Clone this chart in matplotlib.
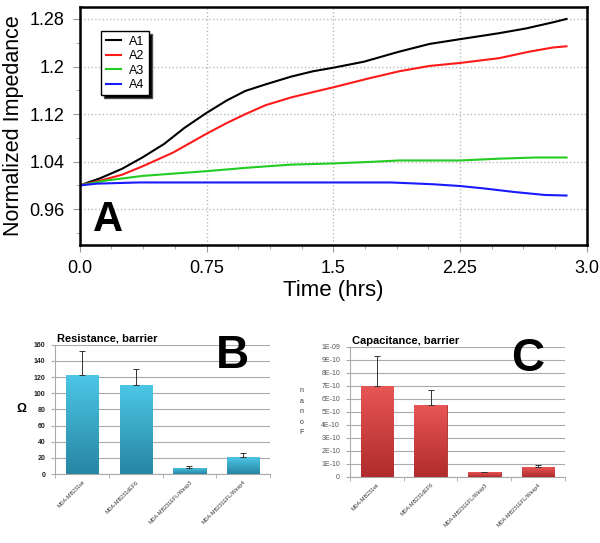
import numpy as np
import matplotlib
matplotlib.use("Agg")
import matplotlib.pyplot as plt
from matplotlib.ticker import MultipleLocator, FixedLocator
from matplotlib.colors import LinearSegmentedColormap

plt.rcParams['font.family'] = ['Liberation Sans', 'DejaVu Sans']

# Panel A: normalized impedance vs time
t_a1 = [0.0, 0.12, 0.25, 0.37, 0.5, 0.62, 0.75, 0.87, 0.98, 1.1, 1.25, 1.38, 1.5, 1.68, 1.89, 2.07, 2.25, 2.48, 2.64, 2.81, 2.88]
a1 = [1.0, 1.012, 1.028, 1.047, 1.07, 1.097, 1.122, 1.143, 1.159, 1.17, 1.183, 1.192, 1.198, 1.208, 1.225, 1.238, 1.246, 1.256, 1.264, 1.275, 1.28]
t_a2 = [0.0, 0.12, 0.25, 0.37, 0.55, 0.75, 0.87, 0.98, 1.1, 1.25, 1.38, 1.5, 1.71, 1.89, 2.07, 2.25, 2.48, 2.66, 2.8, 2.88]
a2 = [1.0, 1.008, 1.018, 1.032, 1.055, 1.087, 1.105, 1.12, 1.135, 1.148, 1.157, 1.165, 1.18, 1.192, 1.201, 1.206, 1.214, 1.225, 1.232, 1.234]
t_a3 = [0.0, 0.15, 0.37, 0.75, 1.0, 1.25, 1.5, 1.75, 1.89, 2.1, 2.25, 2.48, 2.7, 2.88]
a3 = [1.0, 1.008, 1.016, 1.024, 1.03, 1.035, 1.037, 1.04, 1.042, 1.042, 1.042, 1.045, 1.047, 1.047]
t_a4 = [0.0, 0.1, 0.35, 1.0, 1.5, 1.84, 2.09, 2.25, 2.39, 2.57, 2.75, 2.88]
a4 = [1.0, 1.003, 1.005, 1.005, 1.005, 1.005, 1.002, 0.999, 0.995, 0.989, 0.984, 0.983]

# Panels B and C
cells = ['MDA-MB231wt', 'MDA-MB231dEF6', 'MDA-MB231EFL/Wasp3', 'MDA-MB231EFL/Wasp4']
resistance = [122, 110, 8, 21]
resistance_err = [30, 20, 2, 5]
capacitance = [7.0e-10, 5.5e-10, 3.5e-11, 7.5e-11]
capacitance_err = [2.3e-10, 1.2e-10, 5e-12, 1.3e-11]

fig = plt.figure(figsize=(6, 5.43), dpi=100)
fig.patch.set_facecolor('white')

# ---- Panel A ----
ax = fig.add_axes([0.133, 0.549, 0.845, 0.438])
ax.set_facecolor('white')
ax.plot(t_a1, a1, color='black', lw=1.5, label='A1')
ax.plot(t_a2, a2, color='#ff1a1a', lw=1.5, label='A2')
ax.plot(t_a3, a3, color='#22cc22', lw=1.5, label='A3')
ax.plot(t_a4, a4, color='#1a1aff', lw=1.5, label='A4')
ax.set_xlim(0, 3.0)
ax.set_ylim(0.9, 1.30)
ax.set_xticks([0.0, 0.75, 1.5, 2.25, 3.0])
ax.set_xticklabels(['0.0', '0.75', '1.5', '2.25', '3.0'])
ax.set_yticks([0.96, 1.04, 1.12, 1.2, 1.28])
ax.set_yticklabels(['0.96', '1.04', '1.12', '1.2', '1.28'])
ax.xaxis.set_minor_locator(MultipleLocator(0.1875))
ax.yaxis.set_minor_locator(MultipleLocator(0.04))
ax.tick_params(which='both', direction='out', color='#999999', labelsize=13, pad=6)
ax.tick_params(which='major', length=5)
ax.tick_params(which='minor', length=3)
ax.grid(True, which='major', color='#bbbbbb', linestyle=':', lw=1)
for s in ax.spines.values():
    s.set_linewidth(1.8)
ax.set_xlabel('Time (hrs)', fontsize=16, labelpad=2)
ax.set_ylabel('Normalized Impedance', fontsize=15.5, labelpad=4)
leg = ax.legend(loc='upper left', bbox_to_anchor=(0.03, 0.925), fontsize=9,
                fancybox=False, edgecolor='black', handlelength=1.2,
                handletextpad=0.7, borderpad=0.35, labelspacing=0.2,
                shadow={'facecolor': 'black', 'alpha': 1})
leg.get_frame().set_linewidth(1.0)
ax.text(0.026, 0.02, 'A', transform=ax.transAxes, fontsize=30,
        fontweight='heavy', ha='left', va='bottom')


def bar_panel(rect, values, errs, light, dark, title, letter, ymax, step, ticklabels, bold_ticks):
    bx = fig.add_axes(rect)
    x = np.arange(len(cells))
    bars = bx.bar(x, values, width=0.6, color=dark, edgecolor=dark, lw=0.6, zorder=3)
    cmap = LinearSegmentedColormap.from_list('g', [dark, light])
    grad = np.linspace(0, 1, 64).reshape(-1, 1)
    for b in bars:
        x0, y0 = b.get_x(), b.get_y()
        im = bx.imshow(grad, cmap=cmap, origin='lower', aspect='auto', zorder=3.5,
                       extent=[x0, x0 + b.get_width(), y0, y0 + b.get_height()])
        im.set_clip_path(b)
    bx.errorbar(x, values, yerr=[np.zeros(len(errs)), errs], fmt='none',
                ecolor='#333333', elinewidth=0.7, capsize=2, capthick=0.7, zorder=4)
    bx.set_xlim(-0.5, len(cells) - 0.5)
    bx.set_ylim(0, ymax)
    yt = np.arange(0, ymax + step / 2, step)
    bx.set_yticks(yt)
    bx.set_yticklabels(ticklabels)
    bx.yaxis.grid(True, color='#aaaaaa', lw=0.8, zorder=0)
    bx.set_axisbelow(True)
    bx.set_xticks(x)
    bx.set_xticklabels(cells, rotation=45, ha='right', rotation_mode='anchor',
                       fontsize=3.9, color='#333333')
    bx.xaxis.set_minor_locator(FixedLocator(np.arange(-0.5, len(cells), 1.0)))
    bx.tick_params(axis='x', which='major', length=0, pad=4)
    bx.tick_params(axis='x', which='minor', length=3, color='#aaaaaa')
    bx.tick_params(axis='y', length=3, color='#aaaaaa', labelsize=5, pad=4)
    for lbl in bx.get_yticklabels():
        lbl.set_fontweight('bold' if bold_ticks else 'normal')
        lbl.set_color('#222222' if bold_ticks else '#555555')
    for k in ['top', 'right']:
        bx.spines[k].set_visible(False)
    for k in ['left', 'bottom']:
        bx.spines[k].set_color('#aaaaaa')
        bx.spines[k].set_linewidth(0.8)
    bx.text(0.01, 1.01, title, transform=bx.transAxes, fontsize=8,
            fontweight='bold', ha='left', va='bottom')
    bx.text(0.75, 0.74, letter, transform=bx.transAxes, fontsize=33,
            fontweight='heavy', ha='left', va='bottom', zorder=6)
    return bx


bx = bar_panel([0.092, 0.127, 0.358, 0.238], resistance, resistance_err,
               '#4cc6e6', '#2786a3', 'Resistance, barrier', 'B', 160, 20,
               [str(v) for v in range(0, 161, 20)], True)
bx.set_ylabel('Ω', fontsize=9, fontweight='bold', rotation=0, labelpad=9, va='center')

c_ticks = ['0', '1E-10', '2E-10', '3E-10', '4E-10', '5E-10', '6E-10', '7E-10', '8E-10', '9E-10', '1E-09']
cx = bar_panel([0.583, 0.122, 0.359, 0.239], capacitance, capacitance_err,
               '#e85555', '#b02c2c', 'Capacitance, barrier', 'C', 1e-9, 1e-10,
               c_ticks, False)
cx.set_ylabel('n\na\nn\no\nF', fontsize=5, rotation=0, labelpad=14, va='center',
              linespacing=1.7, color='#333333')

fig.savefig('out.png', dpi=100)
